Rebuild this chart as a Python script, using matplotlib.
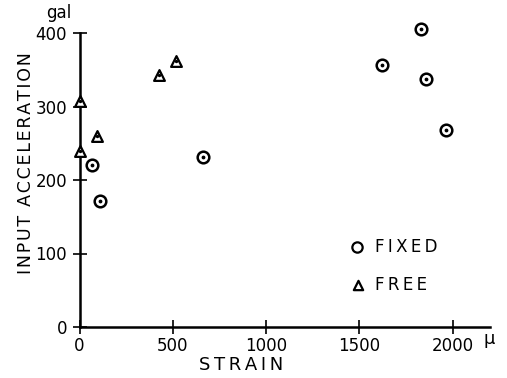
import matplotlib.pyplot as plt

# strain (micro) vs input acceleration (gal)
fixed_strain = [1830, 1621, 1857, 1964, 662, 67, 110]
fixed_accel = [406, 356, 338, 268, 231, 220, 171]
free_strain = [516, 426, 0, 93, 0]
free_accel = [362, 343, 308, 260, 240]

x_ticks = [0, 500, 1000, 1500, 2000]
y_ticks = [0, 100, 200, 300, 400]

plt.rcParams["font.family"] = ["DejaVu Sans"]


def spaced(s, sep="\u2009"):
    # wide letter spacing like the typewriter labels of the original
    return sep.join(s)


fig = plt.figure(figsize=(5.07, 3.78), dpi=100)
ax = fig.add_axes([79.5 / 507, 1 - 327 / 378, 410.5 / 507, 294 / 378])

ax.scatter(fixed_strain, fixed_accel, s=70, facecolors="white",
           edgecolors="black", linewidths=1.8, zorder=3, clip_on=False)
ax.scatter(fixed_strain, fixed_accel, s=3, color="black", zorder=4, clip_on=False)
ax.scatter(free_strain, free_accel, s=60, marker="^", facecolors="white",
           edgecolors="black", linewidths=1.6, zorder=3, clip_on=False)
ax.scatter(free_strain, free_accel, s=2, color="black", zorder=4, clip_on=False)

ax.set_xlim(0, 2200)
ax.set_ylim(0, 400)
ax.set_xticks(x_ticks)
ax.set_yticks(y_ticks)
for s in ["top", "right"]:
    ax.spines[s].set_visible(False)
for s in ["left", "bottom"]:
    ax.spines[s].set_linewidth(1.8)
ax.tick_params(direction="inout", length=10, width=1.2, labelsize=12)
ax.tick_params(axis="y", pad=4)
ax.tick_params(axis="x", pad=2)

# axis titles placed as in the original
fig.text(241 / 507, 1 - 365 / 378, spaced("STRAIN"), fontsize=13,
         ha="center", va="center")
fig.text(26 / 507, 1 - 163.5 / 378, spaced("INPUT ACCELERATION", "\u200a"),
         fontsize=12.5, rotation=90, ha="center", va="center")
fig.text(59 / 507, 1 - 13 / 378, "gal", fontsize=12, ha="center", va="center")
fig.text(489 / 507, 1 - 339 / 378, "μ", fontsize=13, ha="center", va="center")

# legend
ax.scatter([1487], [109], s=55, facecolors="white", edgecolors="black", linewidths=1.6)
ax.text(1583, 109, spaced("FIXED"), fontsize=12, va="center")
ax.scatter([1490], [57], s=45, marker="^", facecolors="white", edgecolors="black", linewidths=1.6)
ax.text(1583, 57, spaced("FREE"), fontsize=12, va="center")

fig.savefig("out.png", dpi=100)
